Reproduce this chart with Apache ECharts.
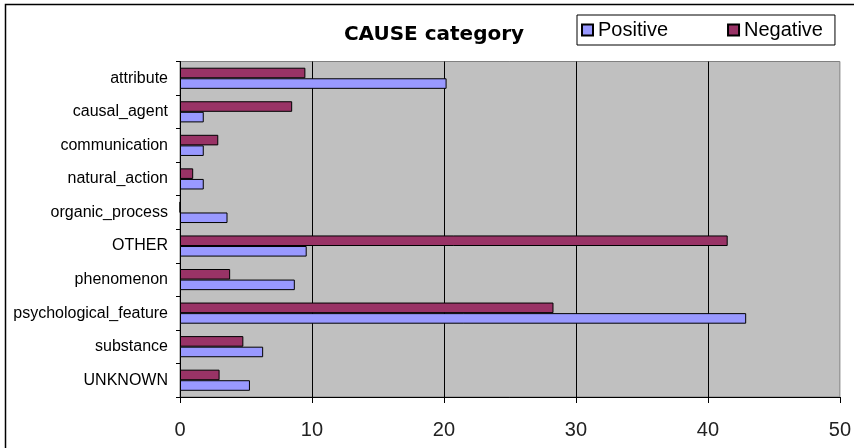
<!DOCTYPE html>
<html>
<head>
<meta charset="utf-8">
<script src="https://cdn.jsdelivr.net/npm/echarts@6/dist/echarts.min.js"></script>
<style>
html,body{margin:0;padding:0;background:#fff;}
#chart{width:854px;height:448px;}
</style>
</head>
<body>
<div id="chart"></div>
<script>
var categories = ['attribute','causal_agent','communication','natural_action','organic_process','OTHER','phenomenon','psychological_feature','substance','UNKNOWN'];
var positiveValues = [20.2, 1.8, 1.8, 1.8, 3.6, 9.6, 8.7, 42.9, 6.3, 5.3];
var negativeValues = [9.5, 8.5, 2.9, 1.0, 0, 41.5, 3.8, 28.3, 4.8, 3.0];
var xTicks = [0, 10, 20, 30, 40, 50];

var chart = echarts.init(document.getElementById('chart'), null, {renderer:'canvas'});
chart.setOption({
  animation: false,
  backgroundColor: '#ffffff',
  graphic: [{
    type: 'rect', silent: true, z: 100,
    shape: {x: 5.5, y: 4.5, width: 1000, height: 1000},
    style: {fill: 'none', stroke: '#000', lineWidth: 1.5}
  }],
  title: {
    text: 'CAUSE category',
    left: 434, top: 25, textAlign: 'center', padding: 0,
    textStyle: {fontFamily: 'DejaVu Sans', fontWeight: 'bold', fontSize: 20, color: '#000'}
  },
  legend: {
    data: ['Positive', 'Negative'],
    left: 577, top: 15,
    padding: [5, 12, 5, 4],
    itemGap: 59, itemWidth: 11, itemHeight: 11,
    icon: 'rect',
    borderColor: '#000', borderWidth: 1,
    backgroundColor: '#fff',
    textStyle: {fontFamily: 'Liberation Sans', fontSize: 20, color: '#000'}
  },
  grid: {
    left: 180, right: 9, top: 61.5, bottom: 51,
    show: true, backgroundColor: '#C0C0C0', borderColor: '#808080', borderWidth: 1
  },
  xAxis: {
    type: 'value', min: xTicks[0], max: xTicks[xTicks.length-1], interval: 10,
    axisLine: {show: true, lineStyle: {color: '#000', width: 1}},
    axisTick: {show: true, length: 6, lineStyle: {color: '#000'}},
    axisLabel: {fontFamily: 'Liberation Sans', fontSize: 20, color: '#222', margin: 23},
    splitLine: {show: true, showMinLine: false, showMaxLine: false, lineStyle: {color: '#000', width: 1}}
  },
  yAxis: {
    type: 'category', data: categories, inverse: true,
    axisLine: {show: true, lineStyle: {color: '#000', width: 1}},
    axisTick: {show: true, length: 4, lineStyle: {color: '#000'}},
    axisLabel: {fontFamily: 'Liberation Sans', fontSize: 16, color: '#000', margin: 12},
    splitLine: {show: false}
  },
  series: [
    {
      name: 'Negative', type: 'bar', data: negativeValues,
      barGap: '0%', barCategoryGap: '37%',
      itemStyle: {color: '#993366', borderColor: '#000', borderWidth: 1}
    },
    {
      name: 'Positive', type: 'bar', data: positiveValues,
      barGap: '0%', barCategoryGap: '37%',
      itemStyle: {color: '#9999FF', borderColor: '#000', borderWidth: 1}
    }
  ]
});
</script>
</body>
</html>
